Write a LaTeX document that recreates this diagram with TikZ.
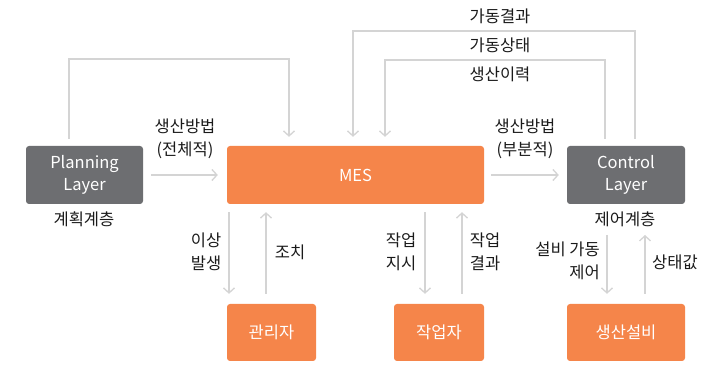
\documentclass[tikz,border=0pt]{standalone}
\usepackage{fontspec}
\setmainfont{Noto Sans CJK KR}
\usetikzlibrary{arrows.meta}
\definecolor{orng}{HTML}{F5854A}
\definecolor{gbox}{HTML}{6D6E71}
\definecolor{lgray}{HTML}{D4D4D4}
\definecolor{txt}{HTML}{1A1A1A}
\begin{document}
\begin{tikzpicture}[x=1pt,y=-1pt,
 box/.style={rounded corners=3pt, inner sep=0pt, text=white, align=center, font=\fontsize{16.5}{22}\selectfont},
 obox/.style={box, fill=orng},
 gbx/.style={box, fill=gbox},
 arr/.style={draw=lgray, line width=1.3pt, -{Straight Barb[length=5pt,width=11pt]}},
 lbl/.style={text=txt, font=\fontsize{16.5}{23}\selectfont, align=center, inner sep=0pt},
]
\useasboundingbox (0,0) rectangle (724,366);
% boxes
\node[gbx, minimum width=117pt, minimum height=58pt] (plan) at (84.5,175) {Planning\\Layer};
\node[obox, minimum width=257pt, minimum height=58pt] (mes) at (355.5,175) {MES};
\node[gbx, minimum width=118pt, minimum height=58pt] (ctrl) at (626,175) {Control\\Layer};
\node[obox, minimum width=89pt, minimum height=57pt] (mgr) at (271.5,332.5) {관리자};
\node[obox, minimum width=90pt, minimum height=57pt] (wrk) at (439,332.5) {작업자};
\node[obox, minimum width=118pt, minimum height=57pt] (eqp) at (626,332.5) {생산설비};
% labels
\node[lbl] (tplan) at (84,219) {계획계층};
\node[lbl] (tctrl) at (625,219) {제어계층};
\node[lbl] (l1) at (185,139) {생산방법\\(전체적)};
\node[lbl] (l2) at (525,139) {생산방법\\(부분적)};
\node[lbl] (l3) at (500,16) {가동결과};
\node[lbl] (l4) at (500,45) {가동상태};
\node[lbl] (l5) at (500,74) {생산이력};
\node[lbl] (l6) at (206,252) {이상\\발생};
\node[lbl] (l7) at (290,252) {조치};
\node[lbl] (l8) at (401,252) {작업\\지시};
\node[lbl] (l9) at (485,252) {작업\\결과};
\node[lbl, align=right, anchor=east] (l10) at (600,261) {설비 가동\\제어};
\node[lbl] (l11) at (675,262) {상태값};
% coordinates
\coordinate (a1) at (69,59);
\coordinate (a2) at (289,59);
\coordinate (b1) at (635,31);
\coordinate (b2) at (353,31);
\coordinate (c1) at (605,60);
\coordinate (c2) at (385,60);
\coordinate (d1) at (229,0);
\coordinate (d2) at (266,0);
\coordinate (e1) at (425,0);
\coordinate (e2) at (462,0);
\coordinate (f1) at (607,235);
\coordinate (f2) at (645,235);
% connectors
\draw[arr, shorten <=8pt, shorten >=9pt] (plan.east) -- (mes.west);
\draw[arr, shorten <=7pt, shorten >=8pt] (mes.east) -- (ctrl.west);
\draw[arr, shorten <=7pt, shorten >=9pt] (plan.north -| a1) -- (a1) -- (a2) -- (mes.north -| a2);
\draw[arr, shorten <=7pt, shorten >=9pt] (ctrl.north -| b1) -- (b1) -- (b2) -- (mes.north -| b2);
\draw[arr, shorten <=7pt, shorten >=9pt] (ctrl.north -| c1) -- (c1) -- (c2) -- (mes.north -| c2);
\draw[arr, shorten <=8pt, shorten >=10pt] (mes.south -| d1) -- (mgr.north -| d1);
\draw[arr, shorten <=10pt, shorten >=8pt] (mgr.north -| d2) -- (mes.south -| d2);
\draw[arr, shorten <=8pt, shorten >=10pt] (mes.south -| e1) -- (wrk.north -| e1);
\draw[arr, shorten <=10pt, shorten >=8pt] (wrk.north -| e2) -- (mes.south -| e2);
\draw[arr, shorten >=10pt] (f1) -- (eqp.north -| f1);
\draw[arr, shorten <=10pt] (eqp.north -| f2) -- (f2);
\end{tikzpicture}
\end{document}
